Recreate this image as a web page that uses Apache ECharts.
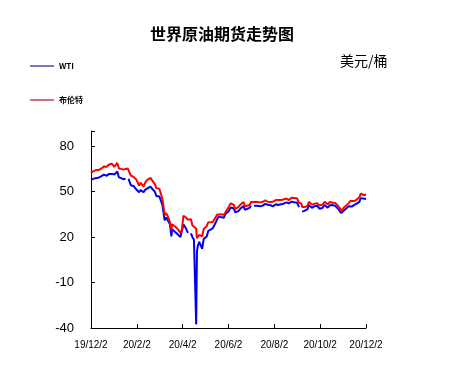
<!DOCTYPE html>
<html>
<head>
<meta charset="utf-8">
<script src="https://cdn.jsdelivr.net/npm/echarts@6/dist/echarts.min.js"></script>
<style>
html,body{margin:0;padding:0;background:#fff;}
#chart{width:453px;height:388px;}
</style>
</head>
<body>
<div id="chart"></div>
<script>
// ---- data ----
var dates = [
'2019-12-02','2019-12-05','2019-12-09','2019-12-12','2019-12-16','2019-12-19','2019-12-23','2019-12-26','2019-12-30',
'2020-01-02','2020-01-06','2020-01-08','2020-01-10','2020-01-14','2020-01-17','2020-01-20','2020-01-21','2020-01-24','2020-01-28','2020-01-31',
'2020-02-04','2020-02-06','2020-02-10','2020-02-12','2020-02-14','2020-02-19','2020-02-21','2020-02-25','2020-02-27',
'2020-03-02','2020-03-04','2020-03-06','2020-03-09','2020-03-11','2020-03-13','2020-03-16','2020-03-18','2020-03-19','2020-03-23','2020-03-25','2020-03-27','2020-03-30',
'2020-04-01','2020-04-03','2020-04-06','2020-04-08','2020-04-09','2020-04-10','2020-04-13','2020-04-15','2020-04-17','2020-04-20','2020-04-21','2020-04-22','2020-04-24','2020-04-28','2020-04-30',
'2020-05-04','2020-05-06','2020-05-08','2020-05-12','2020-05-14','2020-05-18','2020-05-20','2020-05-22','2020-05-27','2020-05-29',
'2020-06-02','2020-06-05','2020-06-09','2020-06-11','2020-06-15','2020-06-18','2020-06-22','2020-06-24','2020-06-26','2020-06-30',
'2020-07-02','2020-07-03','2020-07-06','2020-07-10','2020-07-14','2020-07-17','2020-07-21','2020-07-24','2020-07-28','2020-07-31',
'2020-08-04','2020-08-07','2020-08-11','2020-08-14','2020-08-18','2020-08-21','2020-08-25','2020-08-28',
'2020-09-01','2020-09-04','2020-09-07','2020-09-08','2020-09-11','2020-09-15','2020-09-17','2020-09-21','2020-09-24','2020-09-28',
'2020-10-01','2020-10-05','2020-10-08','2020-10-12','2020-10-15','2020-10-19','2020-10-22','2020-10-26','2020-10-28','2020-10-30',
'2020-11-03','2020-11-05','2020-11-09','2020-11-11','2020-11-13','2020-11-17','2020-11-19','2020-11-23','2020-11-25','2020-11-27','2020-11-30',
'2020-12-02'
];
var wti = [
57.8,58.4,59.0,59.2,60.2,61.2,60.5,61.7,61.7,
61.2,63.3,59.6,59.0,58.2,58.5,null,58.4,54.2,53.5,51.6,
49.6,51.0,49.6,51.2,52.1,53.3,53.4,49.9,47.1,
46.8,46.8,41.3,31.1,33.0,31.7,28.7,20.4,25.2,23.4,24.5,21.5,20.1,
20.3,28.3,26.1,25.1,22.8,null,22.4,19.9,18.3,-37.6,10.0,13.8,16.9,12.3,18.8,
20.4,24.0,24.7,25.8,27.6,31.8,33.5,33.3,32.8,35.5,
36.8,39.6,38.9,36.3,37.1,38.8,40.5,38.0,38.5,39.3,
40.7,null,40.6,40.6,40.3,40.6,41.9,41.3,41.0,40.3,
41.7,41.2,41.6,42.0,42.9,42.3,43.4,43.0,
42.8,39.8,null,36.8,37.3,38.3,41.0,39.3,40.3,40.6,
38.7,39.2,41.2,39.4,41.0,41.1,40.6,38.6,37.4,35.8,
37.7,38.8,40.3,41.5,40.1,41.4,41.7,43.1,45.7,45.5,45.3,
45.3
];
var brent = [
62.4,63.4,64.3,64.2,65.3,66.5,66.4,67.9,68.4,
66.3,68.9,65.4,65.0,64.5,64.9,65.2,65.2,60.7,59.5,58.2,
54.0,55.9,53.3,55.8,57.3,59.1,58.5,54.9,52.2,
51.9,51.1,45.3,34.4,35.8,33.9,30.1,24.9,28.5,27.0,27.4,24.9,22.8,
24.7,34.1,33.1,32.8,31.5,31.0,31.7,27.7,28.1,25.6,19.3,20.4,21.4,20.5,25.3,
27.2,29.7,31.0,30.0,31.1,34.8,35.8,35.1,34.7,35.3,
39.6,42.3,41.2,38.6,39.7,41.5,43.1,40.3,41.0,41.2,
43.1,42.8,43.1,43.2,42.9,43.1,44.3,43.3,43.2,43.3,
44.4,44.4,44.5,44.8,45.5,44.4,45.9,45.8,
45.6,42.7,42.0,39.8,39.8,40.5,43.3,41.4,41.9,42.4,
40.9,41.3,43.3,41.7,43.2,42.6,42.5,40.5,39.1,37.5,
39.7,41.0,42.4,43.8,42.8,43.8,44.2,46.1,48.6,48.2,47.6,
48.3
];
var tickLabels = ['19/12/2','20/2/2','20/4/2','20/6/2','20/8/2','20/10/2','20/12/2'];
var seriesNames = ['WTI','布伦特'];
var titleText = '世界原油期货走势图';
var unitText = '美元/桶';

// ---- build ----
function dayOffset(s){
  var p = s.split('-');
  var t = Date.UTC(+p[0], +p[1]-1, +p[2]);
  return Math.round((t - Date.UTC(2019,11,2)) / 86400000);
}
function pairs(vals){
  return dates.map(function(d,i){ return [dayOffset(d), vals[i]]; });
}
var chart = echarts.init(document.getElementById('chart'), null, {renderer:'canvas'});
chart.setOption({
  animation:false,
  backgroundColor:'#fff',
  title:{
    text:titleText, left:150, top:26, padding:0,
    textStyle:{fontFamily:'"Noto Sans CJK SC"', fontSize:16, fontWeight:'bold', color:'#000'}
  },
  graphic:[{
    type:'text', left:340, top:54,
    style:{text:unitText, font:'14px "Noto Sans CJK SC"', fill:'#000'}
  }],
  legend:{
    orient:'vertical', left:25, top:56, itemGap:24,
    itemWidth:24, itemHeight:1.2, icon:'rect',
    textStyle:{fontSize:8, fontWeight:'bold', color:'#000', lineHeight:10, fontFamily:'"Noto Sans CJK SC"'},
    data:[
      {name:seriesNames[0], itemStyle:{color:'#1a1a9a'}},
      {name:seriesNames[1], itemStyle:{color:'#b01020'}}
    ]
  },
  grid:{left:91, right:87, top:131, bottom:60},
  xAxis:{
    type:'value', min:0, max:366, interval:61,
    axisLine:{onZero:false, lineStyle:{color:'#000', width:1}},
    axisTick:{inside:true, length:4, lineStyle:{color:'#000'}},
    splitLine:{show:false},
    axisLabel:{
      margin:12, fontSize:10, color:'#000', fontFamily:'"Liberation Sans", Arial',
      formatter:function(v){ return tickLabels[Math.round(v/61)] || ''; }
    }
  },
  yAxis:{
    type:'value', min:-40, max:90, interval:30,
    axisLine:{show:true, lineStyle:{color:'#000', width:1}},
    axisTick:{show:true, inside:true, length:4, lineStyle:{color:'#000'}},
    splitLine:{show:false},
    axisLabel:{
      margin:17, fontSize:13, color:'#000', fontFamily:'"Liberation Sans", Arial',
      formatter:function(v){ return v > 80 ? '' : String(v); }
    }
  },
  series:[
    {name:seriesNames[0], type:'line', data:pairs(wti), showSymbol:false, symbol:'none',
     lineStyle:{color:'#0000ee', width:2}, itemStyle:{color:'#0000ee'}, z:2},
    {name:seriesNames[1], type:'line', data:pairs(brent), showSymbol:false, symbol:'none',
     lineStyle:{color:'#ff0000', width:2}, itemStyle:{color:'#ff0000'}, z:3}
  ]
});
</script>
</body>
</html>
